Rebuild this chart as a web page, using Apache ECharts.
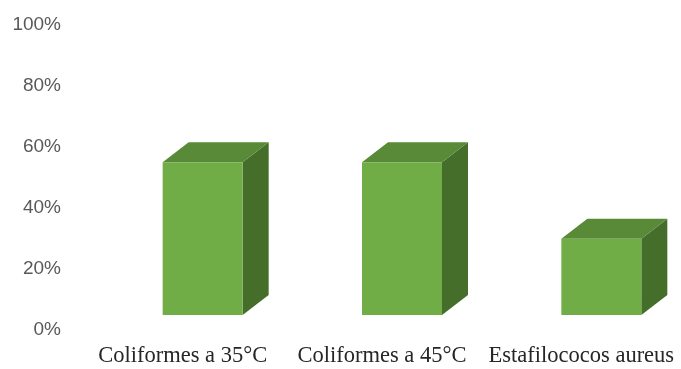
<!DOCTYPE html>
<html>
<head>
<meta charset="utf-8">
<script src="https://cdn.jsdelivr.net/npm/echarts@6/dist/echarts.min.js"></script>
<style>
html,body{margin:0;padding:0;background:#fff;}
#chart{width:681px;height:369px;}
</style>
</head>
<body>
<div id="chart"></div>
<script>
const categories = ['Coliformes a 35°C', 'Coliformes a 45°C', 'Estafilococos aureus'];
const values = [50, 50, 25];
const yTicks = [0, 20, 40, 60, 80, 100];

const chart = echarts.init(document.getElementById('chart'));
const FRONT = '#70ad47', TOP = '#588a37', SIDE = '#466e2b';
const BAR_W = 80, DX = 26, DY = 20, SHIFT_X = 20, SHIFT_Y = 15;

chart.setOption({
  animation: false,
  backgroundColor: '#ffffff',
  grid: { left: 83, width: 600, top: 24.5, bottom: 39 },
  xAxis: {
    type: 'category',
    data: categories,
    axisLine: { show: false },
    axisTick: { show: false },
    axisLabel: {
      interval: 0,
      hideOverlap: false,
      margin: 15,
      fontFamily: 'Liberation Serif',
      fontSize: 22.5,
      color: '#262626'
    }
  },
  yAxis: {
    type: 'value',
    min: yTicks[0],
    max: yTicks[yTicks.length - 1],
    interval: 20,
    axisLine: { show: false },
    axisTick: { show: false },
    splitLine: { show: false },
    axisLabel: {
      margin: 22,
      formatter: '{value}%',
      fontFamily: 'Liberation Sans',
      fontSize: 19,
      color: '#595959'
    }
  },
  series: [{
    type: 'custom',
    data: values.map((v, i) => [i, v]),
    encode: { x: 0, y: 1 },
    renderItem: function (params, api) {
      const idx = api.value(0);
      const base = api.coord([idx, 0]);
      const topP = api.coord([idx, api.value(1)]);
      const cx = base[0] + SHIFT_X;
      const y0 = base[1] - SHIFT_Y;
      const y1 = topP[1] - SHIFT_Y;
      const l = cx - BAR_W / 2, r = cx + BAR_W / 2;
      return {
        type: 'group',
        children: [
          { type: 'polygon', shape: { points: [[r, y1], [r + DX, y1 - DY], [r + DX, y0 - DY], [r, y0]] }, style: { fill: SIDE } },
          { type: 'polygon', shape: { points: [[l, y1], [r, y1], [r + DX, y1 - DY], [l + DX, y1 - DY]] }, style: { fill: TOP } },
          { type: 'rect', shape: { x: l, y: y1, width: BAR_W, height: y0 - y1 }, style: { fill: FRONT } }
        ]
      };
    }
  }]
});
</script>
</body>
</html>
